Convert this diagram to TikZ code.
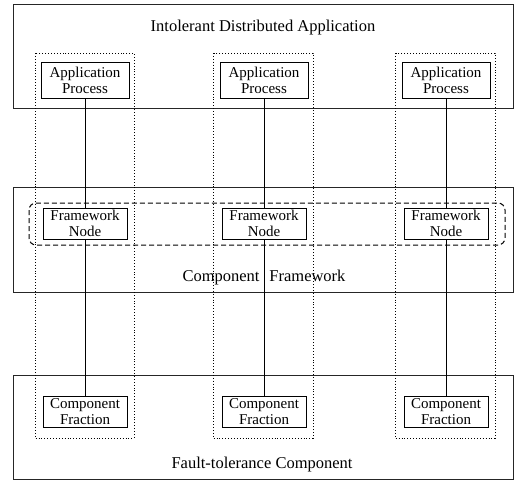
\documentclass[tikz,border=0pt]{standalone}
\usepackage{fontspec}
\setmainfont{Liberation Serif}
\usetikzlibrary{positioning}

\begin{document}
\begin{tikzpicture}[x=1pt, y=-1pt]
\tikzstyle{layer} = [draw=black!85, line width=0.9pt]
\tikzstyle{group} = [draw, dotted, line width=0.9pt]
\tikzstyle{proc} = [draw, line width=1pt, fill=white, align=center, inner sep=0pt, font=\fontsize{15}{16.5}\selectfont]
\tikzstyle{title} = [anchor=base, font=\fontsize{16.5}{19}\selectfont]
\tikzstyle{link} = [line width=0.9pt]

\useasboundingbox (0,0) rectangle (515,483);

% the three layers
\draw [layer] (13,4) rectangle (513,108);
\draw [layer] (13,187) rectangle (513,292);
\draw [layer] (13,375) rectangle (513,479);

% one column per process
\draw [group] (35,53) rectangle (134,438);
\draw [group] (213,53) rectangle (313,438);
\draw [group] (395,53) rectangle (495,438);

\draw [draw=black, dash pattern=on 5pt off 3pt, line width=1pt, rounded corners=7pt] (29,203) rectangle (505,245);

\node [title] (apptitle) at (263,31) {Intolerant Distributed Application};
\node [title] (fwtitle) at (264,281) {Component\hspace{0.6em}Framework};
\node [title] (fttitle) at (262,468) {Fault-tolerance Component};

\node [proc, minimum width=88pt, minimum height=36pt] (app1) at (85,80.5) {Application\\Process};
\node [proc, minimum width=88pt, minimum height=36pt] (app2) at (264,80.5) {Application\\Process};
\node [proc, minimum width=88pt, minimum height=36pt] (app3) at (446,80.5) {Application\\Process};

\node [proc, minimum width=84pt, minimum height=31pt] (fw1) at (85,223.5) {Framework\\Node};
\node [proc, minimum width=84pt, minimum height=31pt] (fw2) at (264,223.5) {Framework\\Node};
\node [proc, minimum width=84pt, minimum height=31pt] (fw3) at (446,223.5) {Framework\\Node};

\node [proc, minimum width=84pt, minimum height=31pt] (comp1) at (85,411.5) {Component\\Fraction};
\node [proc, minimum width=84pt, minimum height=31pt] (comp2) at (264,411.5) {Component\\Fraction};
\node [proc, minimum width=84pt, minimum height=31pt] (comp3) at (446,411.5) {Component\\Fraction};

\draw [link] (app1) -- (fw1);
\draw [link] (app2) -- (fw2);
\draw [link] (app3) -- (fw3);
\draw [link] (fw1) -- (comp1);
\draw [link] (fw2) -- (comp2);
\draw [link] (fw3) -- (comp3);
\end{tikzpicture}
\end{document}
